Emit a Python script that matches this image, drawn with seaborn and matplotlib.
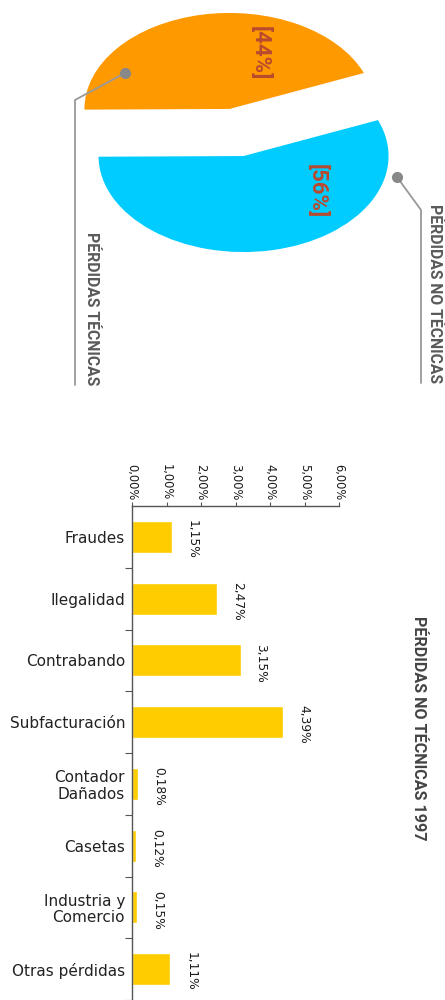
import matplotlib
matplotlib.use("Agg")
import matplotlib.pyplot as plt
import seaborn as sns
import pandas as pd
from matplotlib.lines import Line2D
from matplotlib.ticker import FixedLocator, FuncFormatter

# ---------------- data ----------------
pie_labels = ["PÉRDIDAS TÉCNICAS", "PÉRDIDAS NO TÉCNICAS"]
pie_values = [44, 56]
pie_colors = ["#FF9900", "#00CCFF"]

categories = ["Fraudes", "Ilegalidad", "Contrabando", "Subfacturación",
              "Contador\nDañados", "Casetas", "Industria y\nComercio", "Otras pérdidas"]
values = [1.15, 2.47, 3.15, 4.39, 0.18, 0.12, 0.15, 1.11]
xticks = [0, 1, 2, 3, 4, 5, 6]
bar_title = "PÉRDIDAS NO TÉCNICAS 1997"

# ---------------- figure ----------------
sns.set_theme(style="white")
plt.rcParams["font.family"] = ["DejaVu Sans"]

W, H = 445, 1000
fig = plt.figure(figsize=(W / 100, H / 100), dpi=100)


def P(px, py):
    return (px / W, 1 - py / H)


# ---------------- pie (rotated view) ----------------
cx, cy = 236.5, 132.5   # centre in pixels
rx, ry = 145.0, 96.0    # radius in pixels (elliptic)
pie_h = 420
axp = fig.add_axes([0, 1 - pie_h / H, 1, pie_h / H])
wedges, _ = axp.pie(pie_values, colors=pie_colors, startangle=22,
                    counterclock=True, explode=[0.25, 0.25],
                    wedgeprops=dict(linewidth=0))
axp.set_aspect("auto")
axp.set_xlim(-cx / rx, (W - cx) / rx)
axp.set_ylim(-(pie_h - cy) / ry, cy / ry)
axp.axis("off")

pct_pos = [(260, 53), (317, 191)]
for v, (px, py) in zip(pie_values, pct_pos):
    fig.text(*P(px, py), f"[{v}%]", rotation=-90, ha="center", va="center",
             fontsize=16, fontweight="bold", color="#B84A2E", family="Roboto")

leaders = [
    [(125, 73), (75, 100), (75, 385)],
    [(397, 177), (421, 210), (421, 383)],
]
text_x = [91, 434]
for lbl, pts, tx in zip(pie_labels, leaders, text_x):
    xs = [P(*p)[0] for p in pts]
    ys = [P(*p)[1] for p in pts]
    fig.add_artist(Line2D(xs, ys, transform=fig.transFigure, color="#999999", lw=1.3))
    fig.add_artist(Line2D([xs[0]], [ys[0]], transform=fig.transFigure, marker="o",
                          markersize=7, color="#888888", lw=0))
    fig.text(*P(tx, pts[-1][1]), lbl, rotation=-90, ha="center", va="bottom",
             fontsize=11.3, fontweight="bold", color="#5a5a5a", family="Roboto")

# ---------------- bar chart ----------------
ax = fig.add_axes([132 / W, 0, 207 / W, 494 / H])
df = pd.DataFrame({"cat": categories, "val": values})
sns.barplot(data=df, x="val", y="cat", color="#FFCC00", width=0.52,
            saturation=1, ax=ax)
ax.set_xlim(0, 6)
ax.set_ylim(len(categories) - 0.5, -0.5)
ax.set_xlabel("")
ax.set_ylabel("")

for s in ["right", "bottom"]:
    ax.spines[s].set_visible(False)
for s in ["top", "left"]:
    ax.spines[s].set_color("#555555")
    ax.spines[s].set_linewidth(1.0)

ax.xaxis.tick_top()
ax.xaxis.set_major_locator(FixedLocator(xticks))
ax.xaxis.set_major_formatter(FuncFormatter(lambda v, p: f"{v:.2f}%".replace(".", ",")))
ax.tick_params(axis="x", which="major", direction="out", length=3, width=0.8,
               color="#555555", labelsize=8.3, labelcolor="#1a1a1a", pad=1)
plt.setp(ax.get_xticklabels(), rotation=-90, ha="center", va="bottom")

ax.tick_params(axis="y", which="major", length=0, labelsize=11,
               labelcolor="#222222", pad=5)
ax.yaxis.set_minor_locator(FixedLocator([i + 0.5 for i in range(len(categories))]))
ax.tick_params(axis="y", which="minor", direction="out", length=5, width=0.8,
               color="#555555", left=True)
for t in ax.get_yticklabels():
    t.set_linespacing(1.1)

for i, v in enumerate(values):
    ax.annotate(f"{v:.2f}%".replace(".", ","), (v, i - 0.27),
                xytext=(10, 0), textcoords="offset points", rotation=-90,
                ha="left", va="top", fontsize=8.8, color="#1a1a1a",
                annotation_clip=False)

fig.text(*P(419, 728), bar_title, rotation=-90, ha="center", va="center",
         fontsize=11.6, fontweight="bold", color="#444444", family="Roboto")

fig.savefig("out.png", dpi=100)
